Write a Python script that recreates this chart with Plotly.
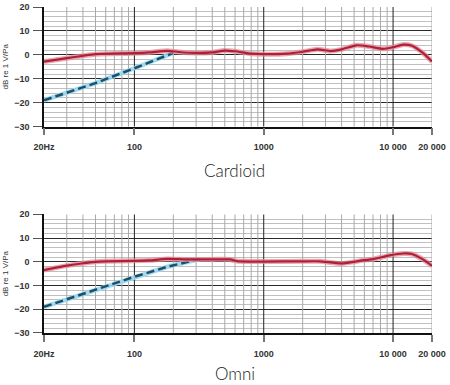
import plotly.graph_objects as go

# ---- data ----
card_freq = [20, 30, 40, 50, 100, 130, 180, 220, 300, 400, 500, 600, 800, 1000, 1500,
             2000, 2600, 3300, 4000, 5200, 6500, 8400, 10000, 12000, 14000, 17000, 20000]
card_db = [-2.8, -1.4, -0.4, 0.3, 0.7, 1.0, 1.7, 1.2, 0.8, 1.0, 1.8, 1.5, 0.5, 0.3, 0.5,
           1.3, 2.3, 1.6, 2.3, 4.0, 3.5, 2.5, 3.2, 4.3, 3.8, 0.8, -2.8]
card_cut_freq = [20, 50, 100, 150, 200]
card_cut_db = [-19.0, -11.8, -5.6, -2.0, 0.8]

omni_freq = [20, 30, 40, 50, 60, 100, 130, 180, 250, 400, 550, 620, 800, 1000, 2000,
             2700, 4000, 6000, 7000, 9400, 12000, 14000, 17000, 20000]
omni_db = [-3.5, -1.6, -0.6, 0.0, 0.2, 0.4, 0.6, 1.2, 1.0, 1.0, 1.0, 0.3, 0.1, 0.1, 0.2,
           0.2, -0.7, 0.7, 1.1, 2.7, 3.5, 3.3, 1.0, -1.7]
omni_cut_freq = [20, 50, 100, 180, 320]
omni_cut_db = [-19.0, -11.8, -6.3, -2.1, 1.2]

x_tick_vals = [20, 100, 1000, 10000, 20000]
x_tick_text = ["20Hz", "100", "1000", "10 000", "20 000"]
x_minor_vals = [30, 40, 50, 60, 70, 80, 90, 200, 300, 400, 500, 600, 700, 800, 900,
                2000, 3000, 4000, 5000, 6000, 7000, 8000, 9000, 20000]
x_decades = [100, 1000, 10000]
titles = ["Cardioid", "Omni"]

RED = "#b01f38"
RED_HALO = "rgba(226,140,152,0.75)"
BLUE = "#1e4f68"
BLUE_HALO = "rgba(150,215,240,0.9)"

fig = go.Figure()

panels = [(card_freq, card_db, card_cut_freq, card_cut_db, "x", "y"),
          (omni_freq, omni_db, omni_cut_freq, omni_cut_db, "x2", "y2")]

# vertical grid lines drawn through the log axes, then the curves
for f, v, cf, cv, xa, ya in panels:
    for m in x_minor_vals:
        fig.add_trace(go.Scatter(x=[m, m], y=[-30, 20], xaxis=xa, yaxis=ya, mode="lines",
                                 line=dict(color="#a8a8a8", width=1), hoverinfo="skip"))
    for d in x_decades:
        fig.add_trace(go.Scatter(x=[d, d], y=[-30, 20], xaxis=xa, yaxis=ya, mode="lines",
                                 line=dict(color="#222", width=1), hoverinfo="skip"))
    fig.add_trace(go.Scatter(x=cf, y=cv, xaxis=xa, yaxis=ya, mode="lines",
                             line=dict(color=BLUE_HALO, width=4.5), hoverinfo="skip"))
    fig.add_trace(go.Scatter(x=cf, y=cv, xaxis=xa, yaxis=ya, mode="lines",
                             line=dict(color=BLUE, width=2.5, dash="8px,4px")))
    fig.add_trace(go.Scatter(x=f, y=v, xaxis=xa, yaxis=ya, mode="lines",
                             line=dict(color=RED_HALO, width=5, shape="spline", smoothing=0.6),
                             hoverinfo="skip"))
    fig.add_trace(go.Scatter(x=f, y=v, xaxis=xa, yaxis=ya, mode="lines",
                             line=dict(color=RED, width=2.2, shape="spline", smoothing=0.6)))

tick_font = dict(family="Liberation Sans, Arial", size=9, color="#333", weight="bold")

def xaxis_cfg(anchor):
    return dict(type="log", range=[1.30103, 4.30103], anchor=anchor, domain=[0, 1],
                automargin=False,
                tickmode="array", tickvals=x_tick_vals, ticktext=x_tick_text,
                showgrid=False, zeroline=False,
                showline=True, linecolor="#111", linewidth=1.5,
                ticks="outside", ticklen=7, tickcolor="#777", tickwidth=1.5,
                ticklabelstandoff=4,
                tickfont=tick_font)

def yaxis_cfg(anchor, domain):
    return dict(range=[-30, 20], anchor=anchor, domain=domain,
                automargin=False,
                tickmode="linear", tick0=0, dtick=10,
                showgrid=True, gridcolor="#2a2a2a", gridwidth=1, zeroline=False,
                showline=True, linecolor="#111", linewidth=1.5,
                ticks="outside", ticklen=9, tickcolor="#555", tickwidth=1,
                ticklabelstandoff=2,
                tickfont=tick_font,
                title=dict(text="dB re 1 V/Pa",
                           font=dict(family="Liberation Sans, Arial", size=8, color="#333"),
                           standoff=4),
                minor=dict(dtick=2, showgrid=True, gridcolor="#c0c0c0", gridwidth=1, ticks=""))

fig.update_layout(
    width=450, height=385,
    margin=dict(l=44, r=18, t=7, b=52, autoexpand=False),
    paper_bgcolor="white", plot_bgcolor="white",
    showlegend=False,
    xaxis=xaxis_cfg("y"),
    yaxis=yaxis_cfg("x", [0.633, 1.0]),
    xaxis2=xaxis_cfg("y2"),
    yaxis2=yaxis_cfg("x2", [0.0, 0.364]),
)

title_font = dict(family="Lato", size=17, color="#1a1a1a", weight=300)
fig.add_annotation(text=titles[0], xref="paper", yref="paper", x=0.492, y=0.5,
                   xanchor="center", yanchor="middle", showarrow=False, font=title_font)
fig.add_annotation(text=titles[1], xref="paper", yref="paper", x=0.492, y=-0.124,
                   xanchor="center", yanchor="middle", showarrow=False, font=title_font)

fig.write_html("out.html", config={"displayModeBar": False},
               post_script="document.body.style.margin='0';document.body.style.padding='0';")
